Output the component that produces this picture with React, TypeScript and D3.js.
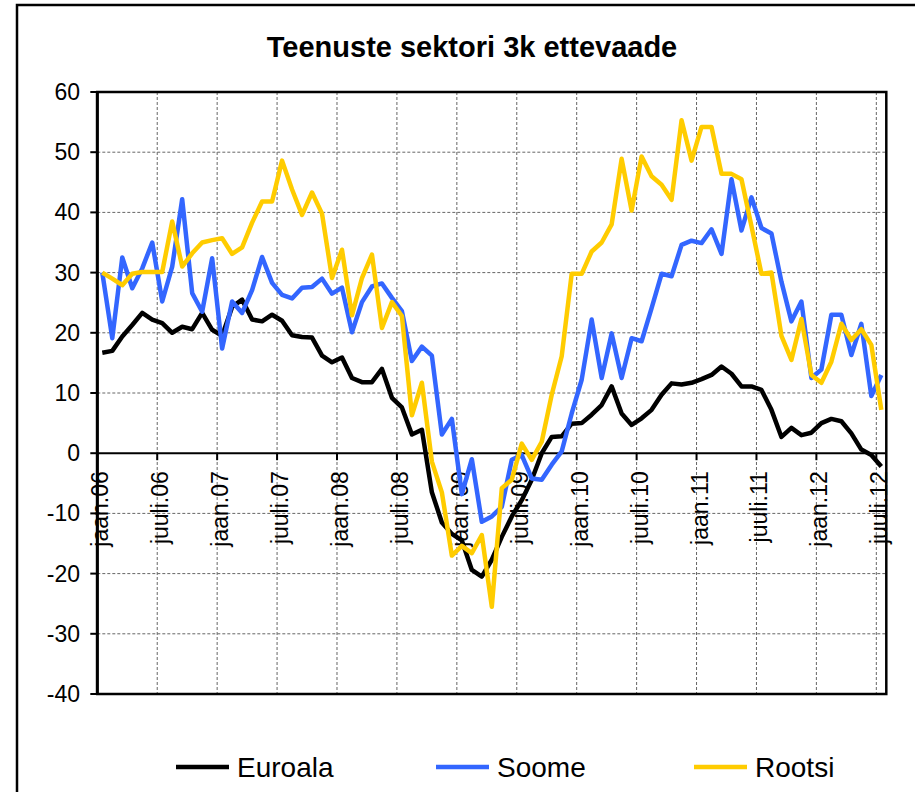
import React, { useEffect, useRef } from 'react';
import * as d3 from 'd3';

// months Jan 2006 .. Jul 2012
const months: Date[] = d3.timeMonth.range(new Date(2006, 0, 1), new Date(2012, 7, 1));

const tickLabels = [
  'jaan.06', 'juuli.06', 'jaan.07', 'juuli.07', 'jaan.08', 'juuli.08', 'jaan.09',
  'juuli.09', 'jaan.10', 'juuli.10', 'jaan.11', 'juuli.11', 'jaan.12', 'juuli.12',
];

const yTicks = [60, 50, 40, 30, 20, 10, 0, -10, -20, -30, -40];

const euroala = [
  16.7, 17.0, 19.4, 21.3, 23.3, 22.2, 21.6, 20.0, 21.0, 20.6, 23.3, 20.5, 19.5, 24.3, 25.5, 22.2,
  21.9, 23.0, 22.0, 19.6, 19.3, 19.2, 16.2, 15.1, 15.9, 12.5, 11.8, 11.8, 14.0, 9.2, 7.6, 3.1,
  3.9, -6.5, -11.5, -13.4, -14.5, -19.4, -20.5, -17.7, -13.9, -10.5, -7.8, -4.4, 0.0, 2.7, 2.8, 4.9,
  5.0, 6.4, 8.0, 11.1, 6.6, 4.7, 5.8, 7.2, 9.7, 11.6, 11.4, 11.7, 12.3, 13.0, 14.4, 13.2,
  11.1, 11.1, 10.5, 7.2, 2.7, 4.2, 3.0, 3.4, 5.0, 5.7, 5.3, 3.3, 0.6, -0.3, -2.2,
];

const soome = [
  30.0, 19.1, 32.5, 27.4, 30.7, 35.0, 25.2, 31.0, 42.2, 26.6, 23.5, 32.4, 17.4, 25.2, 23.3, 27.1,
  32.6, 28.3, 26.3, 25.7, 27.5, 27.6, 29.0, 26.5, 27.5, 20.1, 25.1, 27.7, 28.2, 25.8, 23.6, 15.3,
  17.7, 16.2, 3.1, 5.7, -6.8, -1.0, -11.4, -10.5, -8.9, -1.1, -0.3, -4.2, -4.4, -1.9, 0.3, 6.6,
  12.2, 22.2, 12.5, 19.9, 12.5, 19.1, 18.6, 24.1, 29.8, 29.4, 34.6, 35.3, 34.9, 37.2, 33.1, 45.5,
  37.0, 42.5, 37.4, 36.5, 28.5, 21.9, 25.2, 12.5, 13.9, 23.0, 23.0, 16.3, 21.5, 9.5, 13.0,
];

const rootsi = [
  30.0, 29.0, 27.9, 29.8, 30.1, 30.1, 30.1, 38.5, 31.0, 33.2, 35.0, 35.4, 35.7, 33.1, 34.2, 38.3,
  41.8, 41.8, 48.6, 43.8, 39.6, 43.3, 39.8, 29.1, 33.8, 22.9, 29.1, 33.0, 20.8, 25.1, 22.8, 6.3,
  11.7, -1.4, -6.5, -17.0, -15.4, -16.6, -13.6, -25.5, -5.8, -4.4, 1.6, -1.1, 1.9, 9.7, 16.1, 29.8,
  29.8, 33.5, 35.0, 38.0, 48.9, 40.3, 49.3, 46.0, 44.6, 42.1, 55.3, 48.6, 54.2, 54.2, 46.4, 46.4,
  45.5, 37.7, 29.8, 30.0, 19.5, 15.5, 22.3, 13.0, 11.7, 15.2, 21.5, 18.8, 20.6, 18.0, 7.2,
];

const seriesNames = ['Euroala', 'Soome', 'Rootsi'];
const seriesColors = ['#000000', '#3366ff', '#ffcc00'];

const FONT = 'Arial, "Liberation Sans", sans-serif';

export default function App() {
  const ref = useRef<SVGSVGElement>(null);

  useEffect(() => {
    const svg = d3.select(ref.current);
    svg.selectAll('*').remove();

    const left = 97.3, right = 886.3, top = 92, bottom = 694;

    const x = d3.scaleBand<Date>().domain(months).range([left, right]).paddingInner(0).paddingOuter(0);
    const y = d3.scaleLinear().domain([-40, 60]).range([bottom, top]);
    const cx = (i: number) => (x(months[i]) as number) + x.bandwidth() / 2;

    // outer frame
    svg.append('rect')
      .attr('x', 17).attr('y', 5).attr('width', 960).attr('height', 900)
      .attr('fill', 'white').attr('stroke', '#000').attr('stroke-width', 2.5);

    svg.append('text')
      .attr('x', 472).attr('y', 57)
      .attr('text-anchor', 'middle')
      .style('font-family', FONT).style('font-weight', 'bold').style('font-size', '29px')
      .text('Teenuste sektori 3k ettevaade');

    const g = svg.append('g');

    // grid
    const tickIdx = months.map((_, i) => i).filter(i => i % 6 === 0);
    g.selectAll('.vgrid').data(tickIdx).join('line')
      .attr('class', 'vgrid')
      .attr('x1', i => x(months[i]) as number).attr('x2', i => x(months[i]) as number)
      .attr('y1', top).attr('y2', bottom)
      .attr('stroke', '#666').attr('stroke-width', 1).attr('stroke-dasharray', '3,2');

    g.selectAll('.hgrid').data(yTicks.filter(v => v !== 0 && v !== 60 && v !== -40)).join('line')
      .attr('class', 'hgrid')
      .attr('x1', left).attr('x2', right)
      .attr('y1', d => y(d)).attr('y2', d => y(d))
      .attr('stroke', '#666').attr('stroke-width', 1).attr('stroke-dasharray', '3,2');

    // plot border
    g.append('rect')
      .attr('x', left).attr('y', top).attr('width', right - left).attr('height', bottom - top)
      .attr('fill', 'none').attr('stroke', '#000').attr('stroke-width', 2.5);

    // y axis
    g.append('line')
      .attr('x1', left).attr('x2', left).attr('y1', top).attr('y2', bottom)
      .attr('stroke', '#000').attr('stroke-width', 3);
    g.selectAll('.ytick').data(yTicks).join('line')
      .attr('class', 'ytick')
      .attr('x1', left - 7).attr('x2', left)
      .attr('y1', d => y(d)).attr('y2', d => y(d))
      .attr('stroke', '#000').attr('stroke-width', 2);
    g.selectAll('.ylab').data(yTicks).join('text')
      .attr('class', 'ylab')
      .attr('x', 80).attr('y', d => y(d) + 8)
      .attr('text-anchor', 'end')
      .style('font-family', FONT).style('font-size', '23px')
      .text(d => d);

    // zero line + x ticks
    g.append('line')
      .attr('x1', left).attr('x2', right).attr('y1', y(0)).attr('y2', y(0))
      .attr('stroke', '#000').attr('stroke-width', 2);
    g.selectAll('.xtick').data(tickIdx).join('line')
      .attr('class', 'xtick')
      .attr('x1', i => x(months[i]) as number).attr('x2', i => x(months[i]) as number)
      .attr('y1', y(0)).attr('y2', y(0) + 7)
      .attr('stroke', '#000').attr('stroke-width', 2);
    g.selectAll('.xlab').data(tickIdx).join('text')
      .attr('class', 'xlab')
      .attr('transform', i => `translate(${cx(i) + 6}, ${y(0) + 18}) rotate(-90)`)
      .attr('text-anchor', 'end')
      .style('font-family', FONT).style('font-size', '23px')
      .text((i, k) => tickLabels[k]);

    // series
    const line = d3.line<number>().x((d, i) => cx(i)).y(d => y(d));
    [euroala, soome, rootsi].forEach((s, k) => {
      g.append('path')
        .datum(s)
        .attr('d', line)
        .attr('fill', 'none')
        .attr('stroke', seriesColors[k])
        .attr('stroke-width', 4.5)
        .attr('stroke-linejoin', 'round');
    });

    // legend
    const legX = [176, 436, 694];
    const leg = svg.selectAll('.leg').data(seriesNames).join('g')
      .attr('class', 'leg')
      .attr('transform', (d, k) => `translate(${legX[k]}, 767)`);
    leg.append('line')
      .attr('x1', 0).attr('x2', 53).attr('y1', 0).attr('y2', 0)
      .attr('stroke', (d, k) => seriesColors[k]).attr('stroke-width', 4.5);
    leg.append('text')
      .attr('x', 61).attr('y', 10)
      .style('font-family', FONT).style('font-size', '28px')
      .text(d => d);
  }, []);

  return (
    <svg ref={ref} width={915} height={792}
      style={{ position: 'absolute', left: 0, top: 0, background: 'white' }} />
  );
}
